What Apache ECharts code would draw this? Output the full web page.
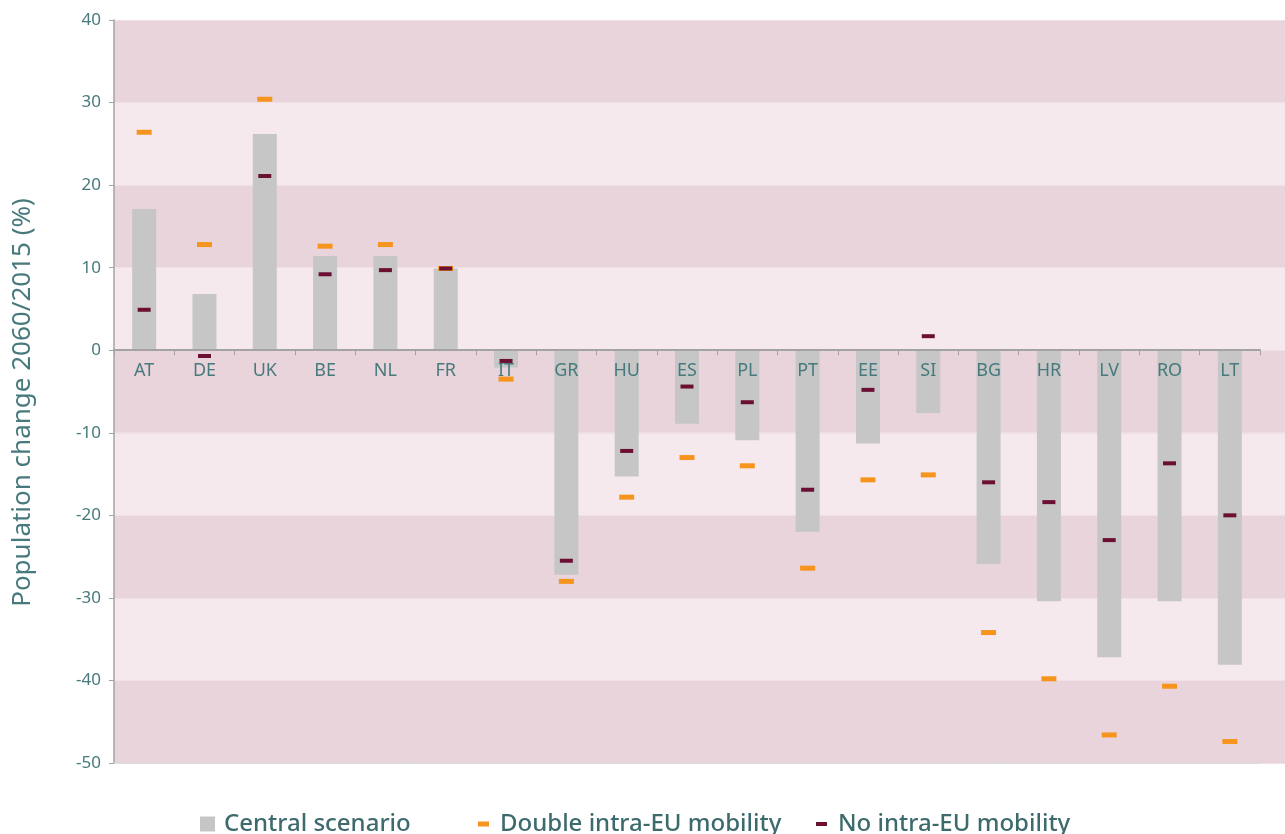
<!DOCTYPE html>
<html><head><meta charset="utf-8">
<script src="https://cdn.jsdelivr.net/npm/echarts@6/dist/echarts.min.js"></script>
<style>html,body{margin:0;padding:0;background:#fff}#c{width:1285px;height:834px}</style>
</head><body><div id="c"></div>
<script>
const categories = ['AT','DE','UK','BE','NL','FR','IT','GR','HU','ES','PL','PT','EE','SI','BG','HR','LV','RO','LT'];
const central = [17.1,6.8,26.2,11.4,11.4,9.9,-2.1,-27.2,-15.3,-8.9,-10.9,-22.0,-11.3,-7.6,-25.9,-30.4,-37.2,-30.4,-38.1];
const doubleMob = [26.4,12.8,30.4,12.6,12.8,9.9,-3.5,-28.0,-17.8,-13.0,-14.0,-26.4,-15.7,-15.1,-34.2,-39.8,-46.6,-40.7,-47.4];
const noMob = [4.9,-0.7,21.1,9.2,9.7,9.9,-1.3,-25.5,-12.2,-4.4,-6.3,-16.9,-4.8,1.7,-16.0,-18.4,-23.0,-13.7,-20.0];
const yTicks = {min:-50, max:40, interval:10};

const teal = '#487a7d';
const legendColor = '#3d6a6d';
const font = 'Noto Sans';
const chart = echarts.init(document.getElementById('c'));
chart.setOption({
  animation:false,
  textStyle:{fontFamily:font},
  grid:[
    {left:114, right:0, top:20, bottom:71},
    {left:114, right:25, top:20, bottom:71}
  ],
  xAxis:[
    {gridIndex:0, type:'value', show:false},
    {gridIndex:1, type:'category', data:categories,
      axisLine:{onZero:true, lineStyle:{color:'#a3a3a3', width:2}},
      axisTick:{show:true, length:5, lineStyle:{color:'#a3a3a3'}},
      axisLabel:{show:false},
      z:5}
  ],
  yAxis:[
    {gridIndex:0, type:'value', min:yTicks.min, max:yTicks.max, interval:yTicks.interval,
      axisLine:{show:false}, axisTick:{show:false}, axisLabel:{show:false},
      splitLine:{show:true, lineStyle:{color:'#f1e1e7', width:1}},
      splitArea:{show:true, areaStyle:{color:['#e9d4db','#f5e9ee']}}},
    {gridIndex:1, type:'value', min:yTicks.min, max:yTicks.max, interval:yTicks.interval,
      name:'Population change 2060/2015 (%)', nameLocation:'middle', nameGap:78,
      nameTextStyle:{color:teal, fontSize:26, fontFamily:font, padding:[0,22,0,0]},
      axisLine:{show:true, lineStyle:{color:'#a3a3a3', width:1.5}},
      axisTick:{show:true, length:5, lineStyle:{color:'#a3a3a3'}},
      axisLabel:{color:teal, fontSize:17, margin:13, fontFamily:font},
      splitLine:{show:false}}
  ],
  legend:[
    {data:[{name:'Central scenario', icon:'rect'}], left:195, top:807, itemWidth:15, itemHeight:15,
      textStyle:{color:legendColor, fontSize:24, fontWeight:500, fontFamily:font, padding:[0,0,0,4]}},
    {data:[{name:'Double intra-EU mobility', icon:'rect'}], left:473, top:807, itemWidth:11, itemHeight:5,
      textStyle:{color:legendColor, fontSize:24, fontWeight:500, fontFamily:font, padding:[0,0,0,6]}},
    {data:[{name:'No intra-EU mobility', icon:'rect'}], left:811, top:807, itemWidth:11, itemHeight:4,
      textStyle:{color:legendColor, fontSize:24, fontWeight:500, fontFamily:font, padding:[0,0,0,6]}}
  ],
  series:[
    {name:'Central scenario', type:'bar', xAxisIndex:1, yAxisIndex:1, data:central,
      barWidth:24, itemStyle:{color:'#c6c6c6'}, z:2,
      markLine:{silent:true, symbol:'none', label:{show:false},
        lineStyle:{color:'#d8d8d8', type:'solid', width:1.5},
        data:[{yAxis:yTicks.min}]}},
    {name:'Double intra-EU mobility', type:'scatter', xAxisIndex:1, yAxisIndex:1, data:doubleMob,
      symbol:'rect', symbolSize:[15,5], itemStyle:{color:'#f7941d', opacity:1}, z:6},
    {name:'No intra-EU mobility', type:'scatter', xAxisIndex:1, yAxisIndex:1, data:noMob,
      symbol:'rect', symbolSize:[13,4], itemStyle:{color:'#6b0f33', opacity:1}, z:7},
    {name:'labels', type:'scatter', xAxisIndex:1, yAxisIndex:1, silent:true, z:4,
      data:categories.map(c => [c, 0]), symbolSize:0.1, itemStyle:{opacity:1, color:'rgba(0,0,0,0)'},
      label:{show:true, position:'bottom', distance:12, color:teal, opacity:1, fontSize:18, fontFamily:font,
        formatter: p => p.value[0]}}
  ]
});
</script></body></html>
